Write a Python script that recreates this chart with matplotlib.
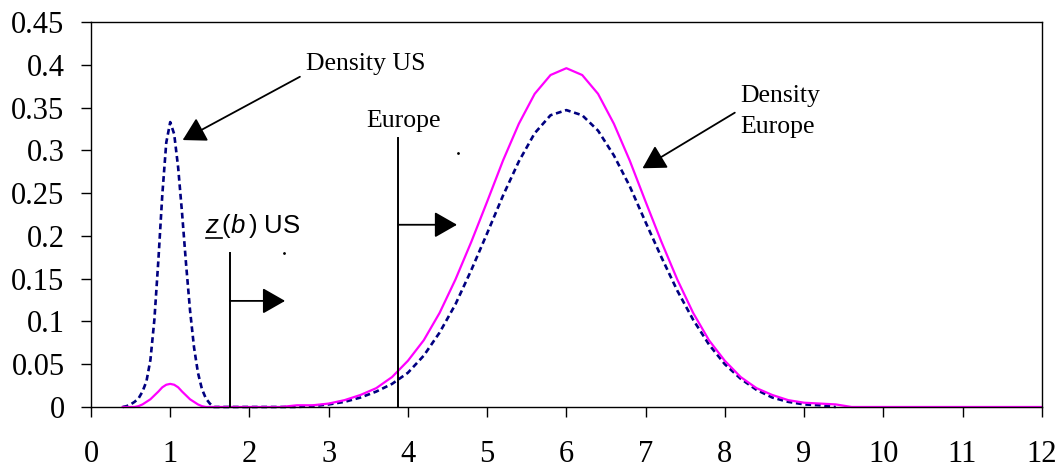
import numpy as np
import matplotlib
matplotlib.use("Agg")
import matplotlib.pyplot as plt

plt.rcParams['font.family'] = ['Liberation Serif', 'DejaVu Serif']
plt.rcParams['mathtext.fontset'] = 'custom'
plt.rcParams['mathtext.rm'] = 'Liberation Sans'
plt.rcParams['mathtext.it'] = 'Liberation Sans:italic'

# values
x = [0.40, 0.45, 0.50, 0.55, 0.60, 0.65, 0.70, 0.75, 0.80, 0.85, 0.90, 0.95,
     1.00, 1.05, 1.10, 1.15, 1.20, 1.25, 1.30, 1.35, 1.40, 1.45, 1.50, 1.55,
     2.0, 2.4,
     2.6, 2.8, 3.0, 3.2, 3.4, 3.6, 3.8, 4.0, 4.2, 4.4, 4.6, 4.8, 5.0, 5.2,
     5.4, 5.6, 5.8, 6.0, 6.2, 6.4, 6.6, 6.8, 7.0, 7.2, 7.4, 7.6, 7.8, 8.0,
     8.2, 8.4, 8.6, 8.8, 9.0, 9.2, 9.4, 9.6,
     10, 11, 12]

density_us = [0.000, 0.001, 0.003, 0.006, 0.010, 0.018, 0.030, 0.055, 0.102, 0.171, 0.248, 0.309,
              0.333, 0.319, 0.280, 0.226, 0.167, 0.113, 0.070, 0.040, 0.021, 0.010, 0.004, 0.000,
              0.000, 0.000,
              0.000, 0.001, 0.003, 0.006, 0.011, 0.018, 0.027, 0.040, 0.060, 0.087, 0.120, 0.160, 0.203, 0.247,
              0.287, 0.320, 0.341, 0.347, 0.341, 0.323, 0.294, 0.258, 0.216, 0.175, 0.136, 0.102, 0.073, 0.050,
              0.033, 0.020, 0.011, 0.006, 0.003, 0.002, 0.000, np.nan,
              np.nan, np.nan, np.nan]

density_europe = [0.000, 0.000, 0.000, 0.000, 0.001, 0.003, 0.006, 0.009, 0.0135, 0.018, 0.023, 0.026,
                  0.027, 0.026, 0.023, 0.018, 0.0135, 0.009, 0.006, 0.003, 0.001, 0.000, 0.000, 0.000,
                  0.000, 0.000,
                  0.002, 0.002, 0.004, 0.008, 0.014, 0.022, 0.035, 0.054, 0.078, 0.110, 0.149, 0.193, 0.240, 0.288,
                  0.331, 0.366, 0.388, 0.396, 0.388, 0.366, 0.331, 0.288, 0.240, 0.193, 0.149, 0.110, 0.078, 0.054,
                  0.035, 0.022, 0.014, 0.008, 0.005, 0.004, 0.003, 0.000,
                  0.000, 0.000, 0.000]

xticks = list(range(0, 13))
yticks = [0, 0.05, 0.1, 0.15, 0.2, 0.25, 0.3, 0.35, 0.4, 0.45]
ytick_labels = ['0', '0.05', '0.1', '0.15', '0.2', '0.25', '0.3', '0.35', '0.4', '0.45']

z_us = 1.754
z_europe = 3.878

fig = plt.figure(figsize=(10.63, 4.75), dpi=100)
ax = fig.add_axes([0.0856, 0.1432, 0.8944, 0.8105])

ax.plot(x, density_us, color='#000080', lw=1.9, linestyle=(0, (2.2, 1.4)), clip_on=False)
ax.plot(x, density_europe, color='#FF00FF', lw=1.6, clip_on=False)

ax.set_xlim(0, 12)
ax.set_ylim(0, 0.45)
ax.set_xticks(xticks)
ax.set_xticklabels([str(t) for t in xticks])
ax.set_yticks(yticks)
ax.set_yticklabels(ytick_labels)
ax.tick_params(axis='x', direction='out', length=7, width=1, labelsize=22, pad=17)
ax.tick_params(axis='y', direction='out', length=7, width=1, labelsize=22, pad=12)
for s in ax.spines.values():
    s.set_linewidth(1)
    s.set_color('black')

arrow = dict(arrowstyle='-|>,head_length=0.7,head_width=0.4', mutation_scale=20,
             color='black', lw=1.3, shrinkA=0, shrinkB=0)

# threshold lines with arrows
ax.plot([z_us, z_us], [0, 0.180], color='black', lw=1.4)
ax.annotate('', xy=(2.45, 0.124), xytext=(z_us, 0.124), arrowprops=arrow)
ax.plot([z_europe, z_europe], [0, 0.314], color='black', lw=1.4)
ax.annotate('', xy=(4.62, 0.213), xytext=(z_europe, 0.213), arrowprops=arrow)

# labels
ax.text(2.72, 0.394, 'Density US', fontsize=18.5, va='baseline')
ax.annotate('', xy=(1.157, 0.312), xytext=(2.637, 0.386), arrowprops=arrow)
ax.text(3.47, 0.327, 'Europe', fontsize=18.5, va='baseline')
ax.text(8.19, 0.357, 'Density', fontsize=18.5, va='baseline')
ax.text(8.19, 0.320, 'Europe', fontsize=18.5, va='baseline')
ax.annotate('', xy=(6.961, 0.279), xytext=(8.126, 0.344), arrowprops=arrow)
ax.text(1.44, 0.203, r'$z\,(b\,)$ US', fontsize=18.5, va='baseline', family='Liberation Sans')
ax.plot([1.45, 1.65], [0.198, 0.198], color='black', lw=1.2)

# small specks in the original
ax.plot([2.435, 4.627], [0.180, 0.297], linestyle='none', marker='.', ms=2, color='black')

plt.savefig('out.png', dpi=100)
